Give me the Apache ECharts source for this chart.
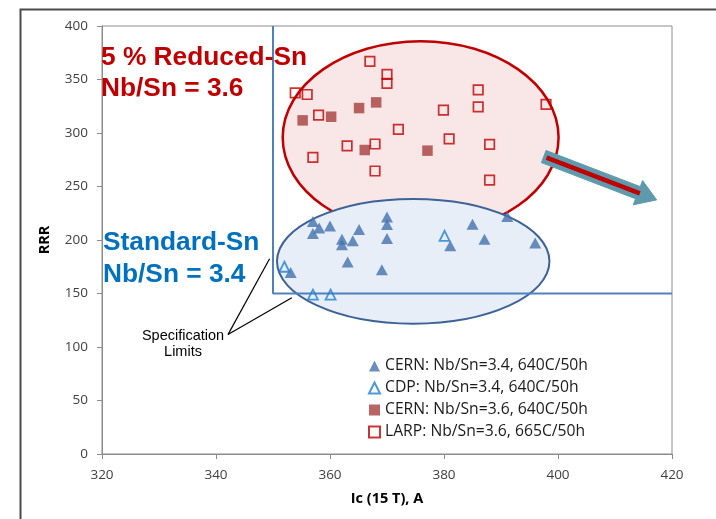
<!DOCTYPE html>
<html>
<head>
<meta charset="utf-8">
<script src="https://cdn.jsdelivr.net/npm/echarts@6/dist/echarts.min.js"></script>
<style>html,body{margin:0;padding:0;background:#fff}#c{width:716px;height:519px}</style>
</head>
<body>
<div id="c"></div>
<script>
// ---- data ----
var xTicks = [320, 340, 360, 380, 400, 420];
var yTicks = [0, 50, 100, 150, 200, 250, 300, 350, 400];
var seriesNames = ['CERN: Nb/Sn=3.4, 640C/50h', 'CDP: Nb/Sn=3.4, 640C/50h', 'CERN: Nb/Sn=3.6, 640C/50h', 'LARP: Nb/Sn=3.6, 665C/50h'];
var cernStd = [[357.0,217.2],[358.1,211.1],[360.0,213.2],[357.0,206.1],[365.1,209.8],[370.0,221.6],[370.0,214.5],[370.0,201.4],[362.1,200.8],[362.1,195.5],[364.0,199.3],[363.1,179.4],[369.1,172.2],[353.1,169.7],[385.0,214.8],[391.1,221.9],[387.1,200.8],[396.0,197.1],[381.1,194.6]];
var cdp = [[352.0,175.0],[357.0,148.9],[360.1,148.9],[380.1,203.9]];
var cernRed = [[355.2,311.8],[360.2,315.2],[365.1,323.3],[368.1,328.6],[366.1,284.1],[377.1,283.5]];
var larp = [[367.0,367.0],[370.0,354.7],[370.0,346.3],[353.9,337.5],[356.0,336.0],[358.0,316.7],[372.0,303.4],[363.0,288.0],[367.9,289.7],[357.0,277.3],[367.9,264.5],[386.0,340.3],[386.0,324.5],[379.9,321.4],[397.9,326.7],[380.9,294.6],[388.0,289.4],[388.0,255.9]];
// annotations (data units)
var specLimit = [[350,400],[350,150],[420,150]];
var redEllipse = [[375.9,295.8,24.2,90]];   // cx, cy, rx, ry
var blueEllipse = [[374.6,180.1,23.9,58.3]];
var trendArrow = [[397.5,278.0,417.3,237.5]]; // x0,y0,x1,y1
var specArrowFrom = [342.1,111.6];
var specArrowTo = [[349.4,182.5],[353.3,146.1]];

var chart = echarts.init(document.getElementById('c'), null, {renderer:'canvas'});

function ellipseRenderer(fill, stroke, lw){
  return function(params, api){
    var c = api.coord([api.value(0), api.value(1)]);
    var s = api.size([api.value(2), api.value(3)]);
    return {type:'ellipse', shape:{cx:c[0], cy:c[1], rx:s[0], ry:s[1]},
      style:{fill:fill, stroke:stroke, lineWidth:lw}};
  };
}
function arrowRenderer(params, api){
  var p0 = api.coord([api.value(0), api.value(1)]);
  var p1 = api.coord([api.value(2), api.value(3)]);
  var dx = p1[0]-p0[0], dy = p1[1]-p0[1];
  var L = Math.sqrt(dx*dx+dy*dy);
  var ux = dx/L, uy = dy/L, nx = -uy, ny = ux;
  var hw = 6.5, headW = 13, headL = 20;
  var bx = p1[0]-ux*headL, by = p1[1]-uy*headL;
  var pts = [
    [p0[0]+nx*hw, p0[1]+ny*hw],[bx+nx*hw, by+ny*hw],[bx+nx*headW, by+ny*headW],
    [p1[0],p1[1]],[bx-nx*headW, by-ny*headW],[bx-nx*hw, by-ny*hw],[p0[0]-nx*hw, p0[1]-ny*hw]];
  return {type:'group', children:[
    {type:'polygon', shape:{points:pts}, style:{fill:'#5e9aab', stroke:'#5e9aab', lineWidth:1}},
    {type:'line', shape:{x1:p0[0]+ux*3, y1:p0[1]+uy*3, x2:bx+ux*2, y2:by+uy*2}, style:{stroke:'#c00000', lineWidth:4.5}}
  ]};
}

var labelFont = {fontFamily:'Open Sans', fontSize:13.5, color:'#404040'};
var specArrows = specArrowTo.map(function(t){ return [{coord:specArrowFrom},{coord:t}]; });

var option = {
  animation:false,
  backgroundColor:'#fff',
  grid:{left:102, right:44, top:26, bottom:65, show:true, borderColor:'#8c8c8c', borderWidth:1},
  xAxis:{type:'value', min:xTicks[0], max:xTicks[xTicks.length-1], interval:20,
    name:'Ic (15 T), A', nameLocation:'middle', nameGap:37,
    nameTextStyle:{fontFamily:'Open Sans', fontWeight:'bold', fontSize:14.5, color:'#000'},
    axisLine:{show:true, lineStyle:{color:'#8c8c8c'}}, axisTick:{show:true, length:5, lineStyle:{color:'#8c8c8c'}},
    axisLabel:Object.assign({margin:14}, labelFont), splitLine:{show:false}},
  yAxis:{type:'value', min:yTicks[0], max:yTicks[yTicks.length-1], interval:50,
    name:'RRR', nameLocation:'middle', nameGap:50,
    nameTextStyle:{fontFamily:'Open Sans', fontWeight:'bold', fontSize:14.5, color:'#000'},
    axisLine:{show:true, lineStyle:{color:'#8c8c8c'}}, axisTick:{show:true, length:5, lineStyle:{color:'#8c8c8c'}},
    axisLabel:Object.assign({margin:14}, labelFont), splitLine:{show:false}},
  legend:{orient:'vertical', left:363, top:353, itemGap:6, itemWidth:11, itemHeight:11,
    data:seriesNames, textStyle:{fontFamily:'Open Sans', fontSize:15.7, color:'#1a1a1a'}, selectedMode:false},
  graphic:[
    {type:'rect', left:18, top:7, shape:{width:760, height:560}, style:{fill:'none', stroke:'#4a4a4a', lineWidth:2}, z:100},
    {type:'text', left:101, top:42, style:{text:'5 % Reduced-Sn\nNb/Sn = 3.6', fill:'#c00000', font:'bold 26.3px "Liberation Sans", Arial', lineHeight:31}, z:50},
    {type:'text', left:103, top:227, style:{text:'Standard-Sn\nNb/Sn = 3.4', fill:'#0070c0', font:'bold 26.3px "Liberation Sans", Arial', lineHeight:32}, z:50},
    {type:'text', x:183, y:344, style:{text:'Specification\nLimits', fill:'#000', font:'14.5px "Liberation Sans", Arial', lineHeight:16, align:'center', verticalAlign:'middle'}, z:50}
  ],
  series:[
    {type:'custom', name:'redEllipse', data:redEllipse, renderItem:ellipseRenderer('#f9e6e6','#c00000',2.5), encode:{x:0,y:1}, z:1, silent:true},
    {type:'custom', name:'blueEllipse', data:blueEllipse, renderItem:ellipseRenderer('#e7eef8','#3d6298',2), encode:{x:0,y:1}, z:1, silent:true},
    {type:'line', name:'spec', data:specLimit, symbol:'none', lineStyle:{color:'#4f81bd', width:2}, z:3, silent:true,
      markLine:{silent:true, symbol:['none','arrow'], symbolSize:[0,8], label:{show:false},
        lineStyle:{color:'#000', width:1.2, type:'solid'}, data:specArrows}},
    {type:'custom', name:'arrow', data:trendArrow, renderItem:arrowRenderer, encode:{x:[0,2],y:[1,3]}, z:4, silent:true},
    {type:'scatter', name:seriesNames[0], data:cernStd, symbol:'triangle', symbolSize:[12,11], itemStyle:{color:'#4571ad'}, z:5},
    {type:'scatter', name:seriesNames[1], data:cdp, symbol:'triangle', symbolSize:[10,10], itemStyle:{color:'rgba(255,255,255,0)', borderColor:'#1e7fd0', borderWidth:1.8}, z:5},
    {type:'scatter', name:seriesNames[2], data:cernRed, symbol:'rect', symbolSize:10.5, itemStyle:{color:'#a5403d'}, z:5},
    {type:'scatter', name:seriesNames[3], data:larp, symbol:'rect', symbolSize:9.5, itemStyle:{color:'rgba(255,255,255,0)', borderColor:'#c00000', borderWidth:1.7}, z:5}
  ]
};
chart.setOption(option);
</script>
</body>
</html>
